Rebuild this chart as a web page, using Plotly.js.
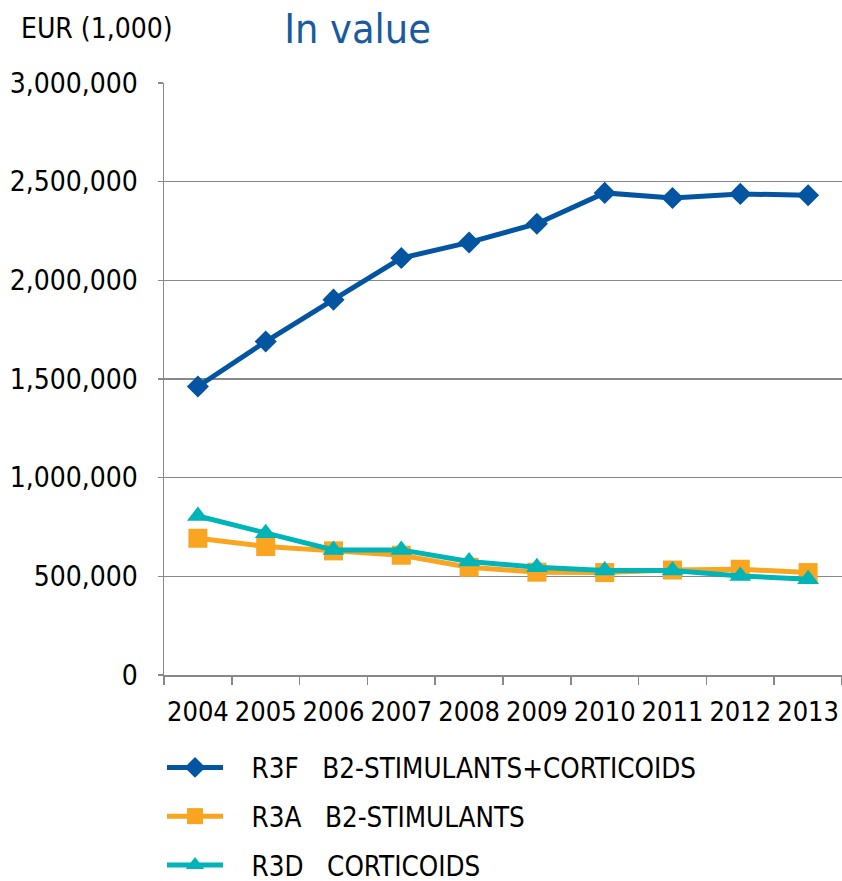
<!DOCTYPE html>
<html>
<head>
<meta charset="utf-8">
<script src="https://cdn.plot.ly/plotly-3.0.1.min.js"></script>
<style>html,body{margin:0;padding:0;background:#fff;}#chart{width:842px;height:881px;}</style>
</head>
<body>
<div id="chart"></div>
<script>
const years = ["2004","2005","2006","2007","2008","2009","2010","2011","2012","2013"];
const r3f = [1462000,1690000,1902000,2113000,2192000,2287000,2443000,2417000,2438000,2431000];
const r3a = [693000,651000,629000,607000,546000,521000,519000,532000,536000,519000];
const r3d = [806000,718000,634000,634000,575000,546000,529000,529000,502000,485000];
const codes = ["R3F","R3A","R3D"];
const labels = ["B2-STIMULANTS+CORTICOIDS","B2-STIMULANTS","CORTICOIDS"];
const yTicks = [0,500000,1000000,1500000,2000000,2500000,3000000];

const FONT = "DejaVu Sans Condensed, DejaVu Sans, sans-serif";
const pad = "\u00a0\u00a0\u00a0";
const names = codes.map((c, i) => pad + c + pad + labels[i]);

const traces = [
  {x: years, y: r3f, name: names[0], legendgroup: "a", mode: "lines+markers",
   line: {color: "#0455A1", width: 5}, marker: {symbol: "diamond", size: 17, color: "#0455A1"}},
  {x: years, y: r3a, name: names[1], legendgroup: "b", mode: "lines+markers",
   line: {color: "#F9A51F", width: 5}, marker: {symbol: "square", size: 19, color: "#F9A51F"}},
  {x: years, y: r3d, name: names[2], legendgroup: "c", mode: "lines+markers",
   line: {color: "#00B4B8", width: 5}, marker: {symbol: "triangle-up", size: 19, color: "#00B4B8"}}
];

const layout = {
  width: 842, height: 881,
  margin: {l: 164, r: 0, t: 83, b: 206, autoexpand: false},
  paper_bgcolor: "#fff", plot_bgcolor: "#fff",
  font: {family: FONT, size: 26, color: "#000"},
  showlegend: true,
  title: {text: "In value", font: {family: FONT, size: 41, color: "#1A5BA0"},
          x: 0.4246, xref: "container", xanchor: "center", y: 0.968, yref: "container", yanchor: "middle"},
  xaxis: {type: "category", range: [-0.5, 9.5], tickson: "boundaries", ticks: "outside", ticklen: 8,
          tickangle: 0, automargin: false, ticklabelstandoff: 12,
          tickcolor: "#888", tickwidth: 1.5, showline: true, linecolor: "#888", linewidth: 1.5,
          showgrid: false, zeroline: false, tickfont: {family: FONT, size: 27, color: "#000"}},
  yaxis: {range: [0, 3000000], tickvals: yTicks, tickformat: ",d", ticks: "outside", ticklen: 5,
          automargin: false,
          tickcolor: "#888", tickwidth: 1.5, showline: true, linecolor: "#888", linewidth: 1.5,
          showgrid: true, gridcolor: "#888", gridwidth: 1.5, zeroline: false,
          ticklabelstandoff: 14, tickfont: {family: FONT, size: 28, color: "#000"}},
  legend: {orientation: "v", x: -2 / 678, xref: "paper", xanchor: "left",
           y: (675 - 743) / 592, yref: "paper", yanchor: "top",
           font: {family: FONT, size: 27.5, color: "#000"}, tracegroupgap: 10, itemwidth: 56,
           bgcolor: "rgba(0,0,0,0)"},
  annotations: [
    {text: "EUR (1,000)", xref: "paper", yref: "paper", x: (19 - 164) / 678, y: (675 - 29) / 592,
     xanchor: "left", yanchor: "middle",
     showarrow: false, font: {family: FONT, size: 28, color: "#000"}}
  ]
};

Plotly.newPlot("chart", traces, layout, {displayModeBar: false, staticPlot: true});
</script>
</body>
</html>
